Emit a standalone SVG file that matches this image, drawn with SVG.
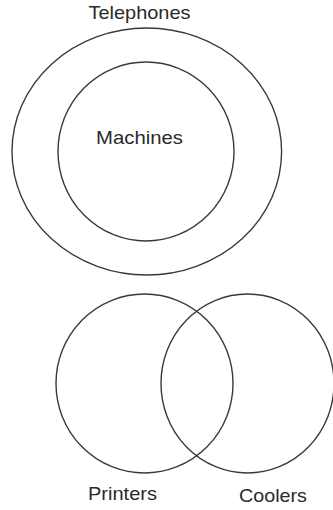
<svg xmlns="http://www.w3.org/2000/svg" width="333" height="510" viewBox="0 0 333 510">
<style>
.set{fill:none;stroke:#3a3a3a;stroke-width:1.4}
.lbl{font-family:"Liberation Sans","Open Sans",sans-serif;font-size:19px;fill:#2a2a2a;text-anchor:middle}
</style>
<rect width="333" height="510" fill="#fff"/>
<g id="telephones">
<ellipse class="set" cx="146.8" cy="151.5" rx="134.8" ry="123.5"/>
<text class="lbl" x="139.5" y="19" textLength="102" lengthAdjust="spacingAndGlyphs">Telephones</text>
</g>
<g id="machines">
<ellipse class="set" cx="146" cy="151.5" rx="88" ry="89.5"/>
<text class="lbl" x="139.5" y="144" textLength="87" lengthAdjust="spacingAndGlyphs">Machines</text>
</g>
<g id="printers">
<ellipse class="set" cx="144.5" cy="383.5" rx="88.5" ry="89.5"/>
<text class="lbl" x="122.5" y="500" textLength="69" lengthAdjust="spacingAndGlyphs">Printers</text>
</g>
<g id="coolers">
<ellipse class="set" cx="247.5" cy="383.5" rx="86.5" ry="89.5"/>
<text class="lbl" x="273" y="502" textLength="68" lengthAdjust="spacingAndGlyphs">Coolers</text>
</g>
<g id="connectors"/>
</svg>
